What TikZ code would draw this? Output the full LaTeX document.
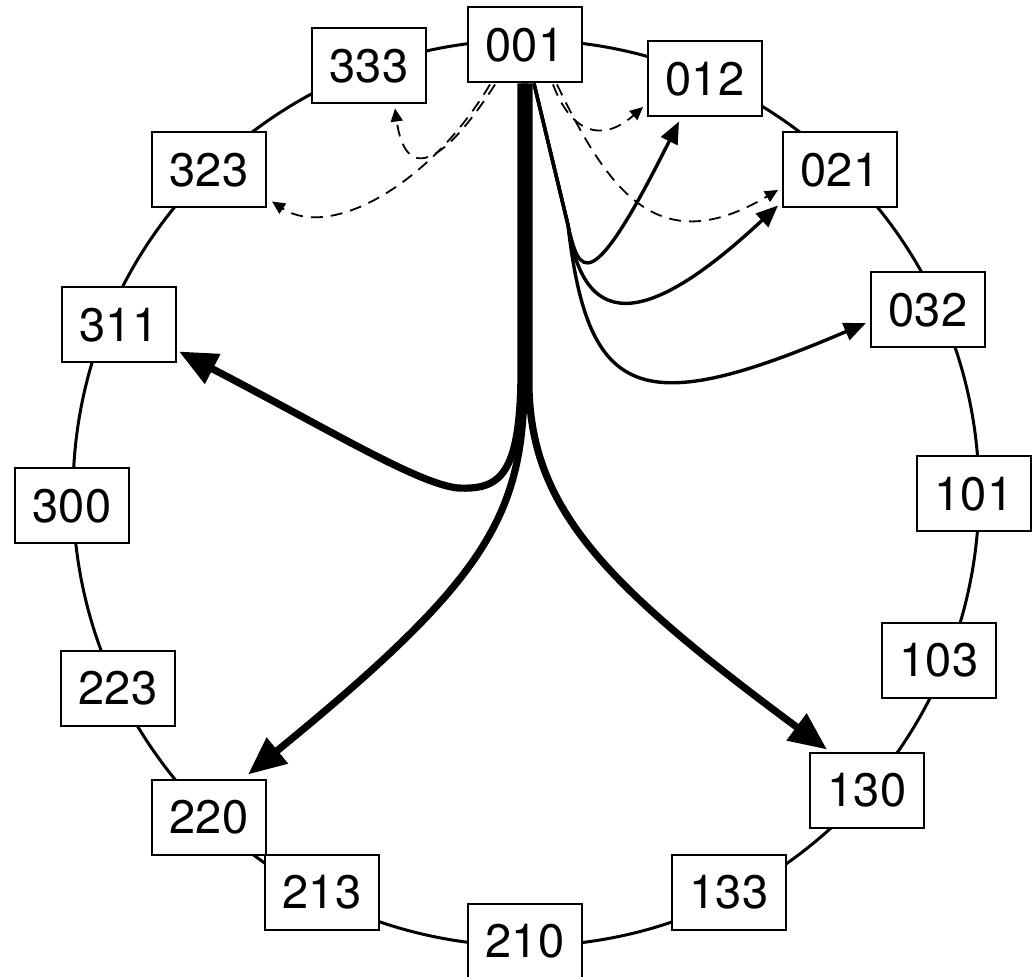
\documentclass[tikz,border=0pt]{standalone}
\usepackage{fontspec}
\setmainfont{TeX Gyre Heros}
\usetikzlibrary{arrows.meta,calc}
\begin{document}
\begin{tikzpicture}[x=0.5pt,y=-0.5pt,
  peer/.style={draw, line width=1pt, fill=white, minimum width=57pt,
    minimum height=37.5pt, inner sep=0pt,
    font=\fontsize{23.5pt}{28pt}\selectfont},
  ring/.style={line width=1.5pt},
  hop/.style={line width=3.6pt, -{Triangle[length=19pt,width=16pt]}},
  link/.style={line width=1.7pt, -{Triangle[length=11pt,width=9pt]}},
  probe/.style={line width=0.9pt, dash pattern=on 6pt off 4pt,
    -{Triangle[length=6.5pt,width=6pt]}}
]
\clip (0,0) rectangle (1032,977);

% the identifier ring
\draw[ring] (526,493) circle [radius=453];

% peers placed along the ring
\node[peer] (n001) at (525,45)  {001};
\node[peer] (n333) at (369,66)  {333};
\node[peer] (n012) at (705,79)  {012};
\node[peer] (n323) at (209,170) {323};
\node[peer] (n021) at (840,170) {021};
\node[peer] (n311) at (119,325) {311};
\node[peer] (n032) at (928,310) {032};
\node[peer] (n300) at (72,506)  {300};
\node[peer] (n101) at (974,494) {101};
\node[peer] (n223) at (118,688) {223};
\node[peer] (n103) at (939,660) {103};
\node[peer] (n220) at (209,817) {220};
\node[peer] (n130) at (867,790) {130};
\node[peer] (n213) at (322,892) {213};
\node[peer] (n133) at (729,892) {133};
\node[peer] (n210) at (525,941) {210};

% arrow end points on the target boxes
\coordinate (t311)  at ($(n311.south east)+(2,-12)$);
\coordinate (t220)  at ($(n220.north)+(39,-4)$);
\coordinate (t130)  at ($(n130.north)+(-40,-2)$);
\coordinate (t012)  at ($(n012.south)+(-26,4)$);
\coordinate (t021)  at ($(n021.south west)+(-4,-3)$);
\coordinate (t032)  at ($(n032.west)+(-4,13)$);
\coordinate (d333)  at ($(n333.south)+(26,4)$);
\coordinate (d323)  at ($(n323.south east)+(5,-7)$);
\coordinate (d012)  at ($(n012.west)+(-4,28)$);
\coordinate (d021)  at ($(n021.west)+(-4,20)$);
\coordinate (fork)  at (568,225);

% long-range hops (heavy)
\draw[hop] ($(n001.south)+(-4,0)$) -- (521,375)
  .. controls (520,475) and (500,490) .. (458,488)
  .. controls (418,484) and (330,430) .. (t311);
\draw[hop] (n001.south) -- (524,390)
  .. controls (522,520) and (480,585) .. (t220);
\draw[hop] ($(n001.south)+(4,0)$) -- (529,390)
  .. controls (533,510) and (605,585) .. (t130);

% short-range hops
\draw[link] ($(n001.south)+(9,0)$) -- (fork)
  .. controls (579,275) and (590,300) .. (t012);
\draw[link] ($(n001.south)+(9,0)$) -- (fork)
  .. controls (585,340) and (655,320) .. (t021);
\draw[link] ($(n001.south)+(9,0)$) -- (fork)
  .. controls (588,400) and (640,420) .. (t032);

% neighbour probes (dashed)
\draw[probe] ($(n001.south)+(-30,1)$) .. controls (440,170) and (405,180) .. (d333);
\draw[probe] ($(n001.south)+(-35,1)$) .. controls (430,185) and (330,240) .. (d323);
\draw[probe] ($(n001.south)+(28,1)$) .. controls (570,130) and (600,145) .. (d012);
\draw[probe] ($(n001.south)+(32,1)$) .. controls (610,195) and (660,260) .. (d021);
\end{tikzpicture}
\end{document}
